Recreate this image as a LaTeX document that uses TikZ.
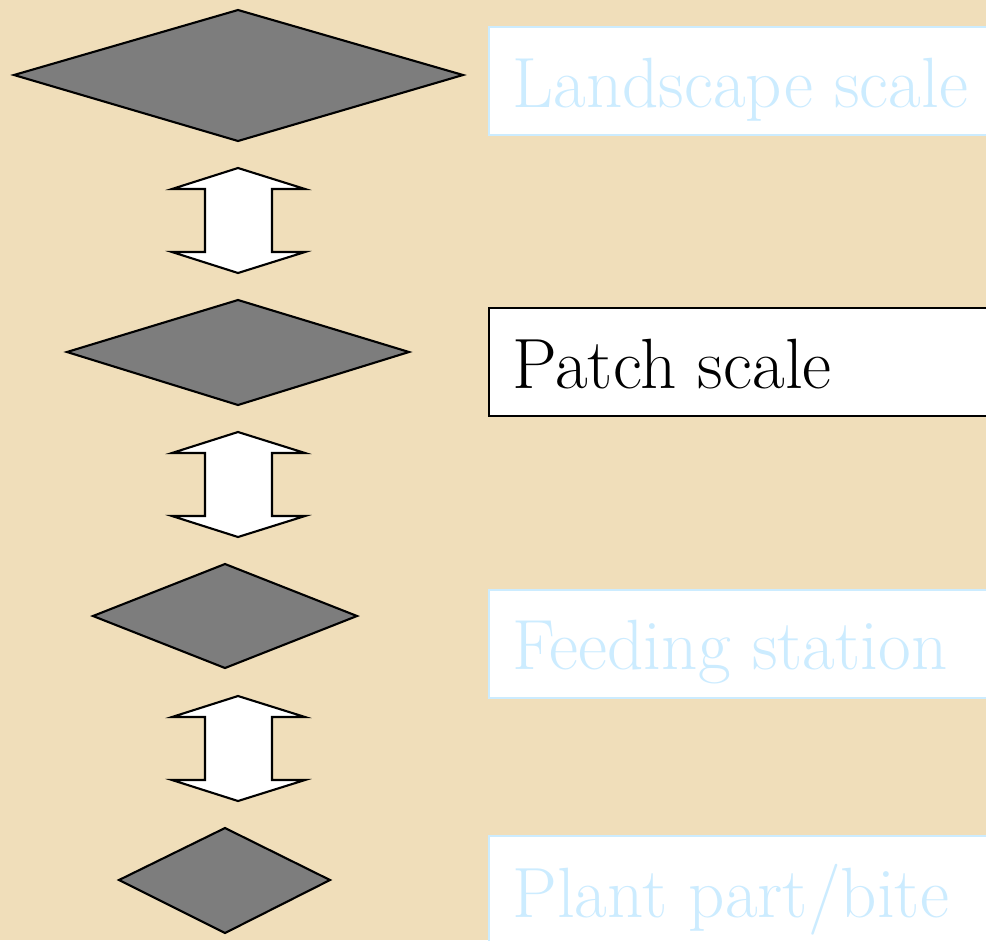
\documentclass[tikz,border=0pt]{standalone}
\definecolor{parch}{RGB}{240,222,186}
\definecolor{paleblue}{RGB}{204,236,255}
\definecolor{dgray}{RGB}{125,125,125}
\newcommand\bigtxt[1]{\fontsize{40.5}{45}\selectfont #1}
\begin{document}
\begin{tikzpicture}[x=0.02cm,y=-0.02cm,
  diam/.style={draw=black,line width=1.2pt,fill=dgray,line join=miter},
  darrow/.style={draw=black,line width=1.2pt,fill=white,line join=miter},
  lblbox/.style={draw=paleblue,line width=1.3pt,fill=white},
  actbox/.style={draw=black,line width=1.2pt,fill=white},
  lbltext/.style={anchor=base west,inner sep=0pt,text=paleblue},
  acttext/.style={anchor=base west,inner sep=0pt,text=black}]
\useasboundingbox (0,0) rectangle (986,940);
\fill[parch] (0,0) rectangle (986,940);
% diamonds
\draw[diam] (238,10) -- (463,75) -- (238,141) -- (14,75) -- cycle;
\draw[diam] (238,300) -- (409,352) -- (238,405) -- (67,352) -- cycle;
\draw[diam] (225,564) -- (357,616) -- (225,668) -- (93,616) -- cycle;
\draw[diam] (225,828) -- (330,880) -- (225,933) -- (119,880) -- cycle;
% double arrows
\foreach \t in {168,432,696}{
  \draw[darrow] (238,\t) -- (305,\t+21) -- (272,\t+21) -- (272,\t+84) -- (305,\t+84)
    -- (238,\t+105) -- (172,\t+84) -- (205,\t+84) -- (205,\t+21) -- (172,\t+21) -- cycle;
}
% boxes
\draw[lblbox] (489,27) rectangle (1000,135);
\node[lbltext] (t1) at (512,107) {\bigtxt{Landscape scale}};
\draw[actbox] (489,308) rectangle (1000,416);
\node[acttext] (t2) at (512,388) {\bigtxt{Patch scale}};
\draw[lblbox] (489,590) rectangle (1000,698);
\node[lbltext] (t3) at (512,669) {\bigtxt{Feeding station}};
\draw[lblbox] (489,836) rectangle (1000,960);
\node[lbltext] (t4) at (512,917) {\bigtxt{Plant part/bite}};
\end{tikzpicture}
\end{document}
